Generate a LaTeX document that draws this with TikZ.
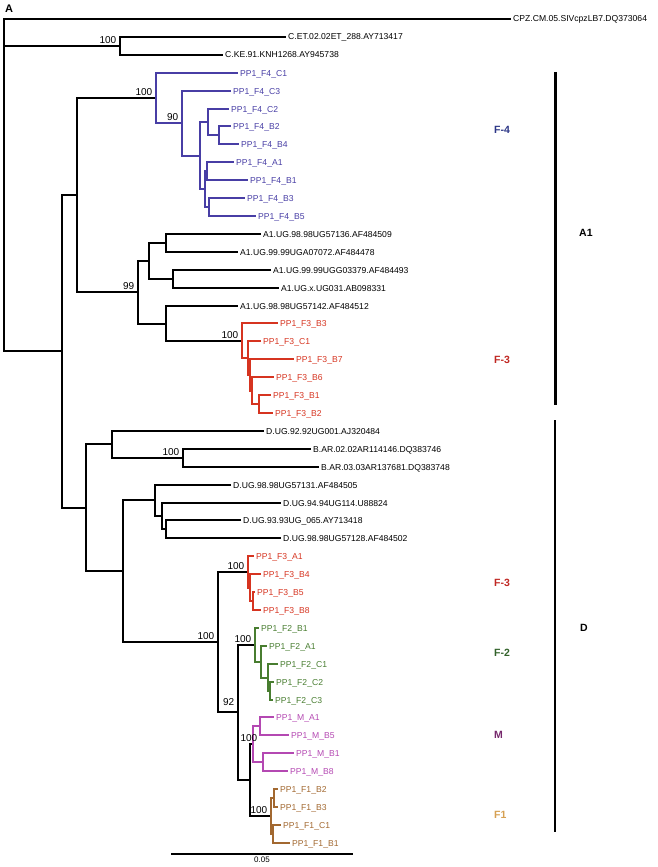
\documentclass[tikz,border=0pt]{standalone}
\usepackage{fontspec}
\setmainfont{Liberation Sans}
\definecolor{fourblue}{RGB}{72,62,165}
\definecolor{fourlbl}{RGB}{45,55,135}
\definecolor{threered}{RGB}{214,52,32}
\definecolor{threelbl}{RGB}{192,40,35}
\definecolor{twogreen}{RGB}{72,125,48}
\definecolor{twolbl}{RGB}{50,98,42}
\definecolor{mpurple}{RGB}{180,72,178}
\definecolor{mlbl}{RGB}{118,40,108}
\definecolor{onebrown}{RGB}{162,104,48}
\definecolor{onelbl}{RGB}{214,160,82}
\begin{document}
\begin{tikzpicture}[x=1pt,y=-1pt,line cap=rect,
    br/.style={line width=2pt},
    leaf/.style={anchor=west,inner xsep=3pt,inner ysep=0pt,text height=6pt,
        text depth=0pt,font=\fontsize{8.6}{9}\selectfont},
    boot/.style={anchor=south east,inner sep=0.5pt,xshift=-3pt,yshift=2pt,
        font=\fontsize{10}{11}\selectfont},
    grp/.style={anchor=west,inner sep=0pt,font=\bfseries\fontsize{10.5}{12}\selectfont}]
    \useasboundingbox (0,0) rectangle (657,867);
    \node[font=\bfseries\fontsize{11}{12}\selectfont] (panel) at (9,9) {A};

    % outgroup
    \coordinate (root) at (4,351);
    \coordinate (nC) at (120,46);
    \coordinate (n62) at (62,351);
    \node[leaf] (cpz) at (510,19) {CPZ.CM.05.SIVcpzLB7.DQ373064};
    \node[leaf] (cet) at (285,37) {C.ET.02.02ET\_288.AY713417};
    \node[leaf] (cke) at (222,55) {C.KE.91.KNH1268.AY945738};
    \draw[br] (root) |- (cpz.west) (root) |- (nC) (root) -- (n62);
    \draw[br] (nC) |- (cet.west) (nC) |- (cke.west);
    \node[boot] (bC) at (nC) {100};

    % backbone
    \coordinate (n77) at (77,195);
    \coordinate (nDD) at (86,508);
    \coordinate (f4) at (156,98);
    \coordinate (nA1) at (138,292);
    \draw[br] (n62) |- (n77) (n62) |- (nDD);
    \draw[br] (n77) |- (f4) (n77) |- (nA1);

    % F-4
    \coordinate (f4n90) at (182,123);
    \coordinate (f4a) at (200,156);
    \coordinate (f4b) at (208,122);
    \coordinate (f4c) at (219,135);
    \coordinate (f4d) at (205,189);
    \coordinate (f4e) at (207,171);
    \coordinate (f4f) at (209,207);
    \begin{scope}[every node/.append style={text=fourblue}]
    \node[leaf] (f4C1) at (237,73) {PP1\_F4\_C1};
    \node[leaf] (f4C3) at (230,91) {PP1\_F4\_C3};
    \node[leaf] (f4C2) at (228,109) {PP1\_F4\_C2};
    \node[leaf] (f4B2) at (230,126) {PP1\_F4\_B2};
    \node[leaf] (f4B4) at (238,144) {PP1\_F4\_B4};
    \node[leaf] (f4A1) at (233,162) {PP1\_F4\_A1};
    \node[leaf] (f4B1) at (247,180) {PP1\_F4\_B1};
    \node[leaf] (f4B3) at (244,198) {PP1\_F4\_B3};
    \node[leaf] (f4B5) at (255,216) {PP1\_F4\_B5};
    \end{scope}
    \draw[br,fourblue] (f4) |- (f4C1.west) (f4) |- (f4n90)
        (f4n90) |- (f4C3.west) (f4n90) |- (f4a)
        (f4a) |- (f4b) (f4a) |- (f4d)
        (f4b) |- (f4C2.west) (f4b) |- (f4c)
        (f4c) |- (f4B2.west) (f4c) |- (f4B4.west)
        (f4d) |- (f4e) (f4d) |- (f4f)
        (f4e) |- (f4A1.west) (f4e) |- (f4B1.west)
        (f4f) |- (f4B3.west) (f4f) |- (f4B5.west);
    \node[boot] (b4) at (f4) {100};
    \node[boot] (b90) at (f4n90) {90};

    % A1 references
    \coordinate (a1a) at (149,261);
    \coordinate (a1b) at (166,243);
    \coordinate (a1c) at (173,279);
    \coordinate (a1d) at (166,324);
    \coordinate (f3) at (242,341);
    \node[leaf] (a1s1) at (260,234) {A1.UG.98.98UG57136.AF484509};
    \node[leaf] (a1s2) at (237,252) {A1.UG.99.99UGA07072.AF484478};
    \node[leaf] (a1s3) at (270,270) {A1.UG.99.99UGG03379.AF484493};
    \node[leaf] (a1s4) at (278,288) {A1.UG.x.UG031.AB098331};
    \node[leaf] (a1s5) at (237,306) {A1.UG.98.98UG57142.AF484512};
    \draw[br] (nA1) |- (a1a) (nA1) |- (a1d)
        (a1a) |- (a1b) (a1a) |- (a1c)
        (a1b) |- (a1s1.west) (a1b) |- (a1s2.west)
        (a1c) |- (a1s3.west) (a1c) |- (a1s4.west)
        (a1d) |- (a1s5.west) (a1d) |- (f3);
    \node[boot] (b99) at (nA1) {99};

    % F-3 (A1 side)
    \coordinate (f3b) at (248,358);
    \coordinate (f3c) at (250,375);
    \coordinate (f3d) at (252,391);
    \coordinate (f3e) at (259,404);
    \begin{scope}[every node/.append style={text=threered}]
    \node[leaf] (f3B3) at (277,323) {PP1\_F3\_B3};
    \node[leaf] (f3C1) at (260,341) {PP1\_F3\_C1};
    \node[leaf] (f3B7) at (293,359) {PP1\_F3\_B7};
    \node[leaf] (f3B6) at (273,377) {PP1\_F3\_B6};
    \node[leaf] (f3B1) at (270,395) {PP1\_F3\_B1};
    \node[leaf] (f3B2) at (272,413) {PP1\_F3\_B2};
    \end{scope}
    \draw[br,threered] (f3) |- (f3B3.west) (f3) |- (f3b)
        (f3b) |- (f3C1.west) (f3b) |- (f3c)
        (f3c) |- (f3B7.west) (f3c) |- (f3d)
        (f3d) |- (f3B6.west) (f3d) |- (f3e)
        (f3e) |- (f3B1.west) (f3e) |- (f3B2.west);
    \node[boot] (b3) at (f3) {100};

    % D and B references
    \coordinate (nD1) at (112,444);
    \coordinate (nB) at (183,458);
    \coordinate (nD2) at (123,571);
    \coordinate (dug) at (155,500);
    \coordinate (dug2) at (162,516);
    \coordinate (dug3) at (166,529);
    \coordinate (pp) at (218,642);
    \node[leaf] (d92) at (263,431) {D.UG.92.92UG001.AJ320484};
    \node[leaf] (bar02) at (310,449) {B.AR.02.02AR114146.DQ383746};
    \node[leaf] (bar03) at (318,467) {B.AR.03.03AR137681.DQ383748};
    \node[leaf] (d98a) at (230,485) {D.UG.98.98UG57131.AF484505};
    \node[leaf] (d94) at (280,503) {D.UG.94.94UG114.U88824};
    \node[leaf] (d93) at (240,520) {D.UG.93.93UG\_065.AY713418};
    \node[leaf] (d98b) at (280,538) {D.UG.98.98UG57128.AF484502};
    \draw[br] (nDD) |- (nD1) (nDD) |- (nD2)
        (nD1) |- (d92.west) (nD1) |- (nB)
        (nB) |- (bar02.west) (nB) |- (bar03.west)
        (nD2) |- (dug) (nD2) |- (pp)
        (dug) |- (d98a.west) (dug) |- (dug2)
        (dug2) |- (d94.west) (dug2) |- (dug3)
        (dug3) |- (d93.west) (dug3) |- (d98b.west);
    \node[boot] (bB) at (nB) {100};

    % patient clades
    \coordinate (g3) at (248,572);
    \coordinate (g3b) at (250,588);
    \coordinate (g3c) at (253,601);
    \coordinate (n92) at (238,712);
    \coordinate (f2) at (255,645);
    \coordinate (f2b) at (261,662);
    \coordinate (f2c) at (268,678);
    \coordinate (f2d) at (270,691);
    \coordinate (nM) at (250,780);
    \coordinate (m) at (253,744);
    \coordinate (mB) at (260,726);
    \coordinate (mC) at (263,762);
    \coordinate (f1) at (271,816);
    \coordinate (f1b) at (274,798);
    \coordinate (f1c) at (273,834);
    \draw[br] (pp) |- (g3) (pp) |- (n92)
        (n92) |- (f2) (n92) |- (nM)
        (nM) |- (m) (nM) |- (f1);
    \node[boot] (bpp) at (pp) {100};
    \node[boot,yshift=4pt] (b92) at (n92) {92};

    \begin{scope}[every node/.append style={text=threered}]
    \node[leaf] (g3A1) at (253,556) {PP1\_F3\_A1};
    \node[leaf] (g3B4) at (260,574) {PP1\_F3\_B4};
    \node[leaf] (g3B5) at (254,592) {PP1\_F3\_B5};
    \node[leaf] (g3B8) at (260,610) {PP1\_F3\_B8};
    \end{scope}
    \draw[br,threered] (g3) |- (g3A1.west) (g3) |- (g3b)
        (g3b) |- (g3B4.west) (g3b) |- (g3c)
        (g3c) |- (g3B5.west) (g3c) |- (g3B8.west);
    \node[boot] (bg3) at (g3) {100};

    \begin{scope}[every node/.append style={text=twogreen}]
    \node[leaf] (f2B1) at (258,628) {PP1\_F2\_B1};
    \node[leaf] (f2A1) at (266,646) {PP1\_F2\_A1};
    \node[leaf] (f2C1) at (277,664) {PP1\_F2\_C1};
    \node[leaf] (f2C2) at (273,682) {PP1\_F2\_C2};
    \node[leaf] (f2C3) at (272,700) {PP1\_F2\_C3};
    \end{scope}
    \draw[br,twogreen] (f2) |- (f2B1.west) (f2) |- (f2b)
        (f2b) |- (f2A1.west) (f2b) |- (f2c)
        (f2c) |- (f2C1.west) (f2c) |- (f2d)
        (f2d) |- (f2C2.west) (f2d) |- (f2C3.west);
    \node[boot] (bf2) at (f2) {100};

    \begin{scope}[every node/.append style={text=mpurple}]
    \node[leaf] (mA1) at (273,717) {PP1\_M\_A1};
    \node[leaf] (mB5) at (288,735) {PP1\_M\_B5};
    \node[leaf] (mB1) at (293,753) {PP1\_M\_B1};
    \node[leaf] (mB8) at (287,771) {PP1\_M\_B8};
    \end{scope}
    \draw[br,mpurple] (m) |- (mB) (m) |- (mC)
        (mB) |- (mA1.west) (mB) |- (mB5.west)
        (mC) |- (mB1.west) (mC) |- (mB8.west);
    \node[boot,xshift=8pt] (bm) at (m) {100};

    \begin{scope}[every node/.append style={text=onebrown}]
    \node[leaf] (f1B2) at (277,789) {PP1\_F1\_B2};
    \node[leaf] (f1B3) at (277,807) {PP1\_F1\_B3};
    \node[leaf] (f1C1) at (280,825) {PP1\_F1\_C1};
    \node[leaf] (f1B1) at (289,843) {PP1\_F1\_B1};
    \end{scope}
    \draw[br,onebrown] (f1) |- (f1b) (f1) |- (f1c)
        (f1b) |- (f1B2.west) (f1b) |- (f1B3.west)
        (f1c) |- (f1C1.west) (f1c) |- (f1B1.west);
    \node[boot] (bf1) at (f1) {100};

    % scale bar
    \coordinate (sbL) at (172,854);
    \coordinate (sbR) at (352,854);
    \draw[br] (sbL) -- node[below,inner sep=2pt,font=\fontsize{8}{9}\selectfont] (sbtxt) {0.05} (sbR);

    % subtype bars and labels
    \coordinate (barAt) at (555,72);
    \coordinate (barAb) at (555,405);
    \coordinate (barDt) at (555,420);
    \coordinate (barDb) at (555,832);
    \draw[line width=3pt,line cap=butt] (barAt) -- (barAb);
    \draw[line width=2pt,line cap=butt] (barDt) -- (barDb);
    \node[grp] (sA1) at (579,233) {A1};
    \node[grp] (sD) at (580,628) {D};
    \node[grp,text=fourlbl] (gF4) at (494,130) {F-4};
    \node[grp,text=threelbl] (gF3a) at (494,360) {F-3};
    \node[grp,text=threelbl] (gF3b) at (494,583) {F-3};
    \node[grp,text=twolbl] (gF2) at (494,653) {F-2};
    \node[grp,text=mlbl] (gM) at (494,735) {M};
    \node[grp,text=onelbl] (gF1) at (494,815) {F1};
\end{tikzpicture}
\end{document}
